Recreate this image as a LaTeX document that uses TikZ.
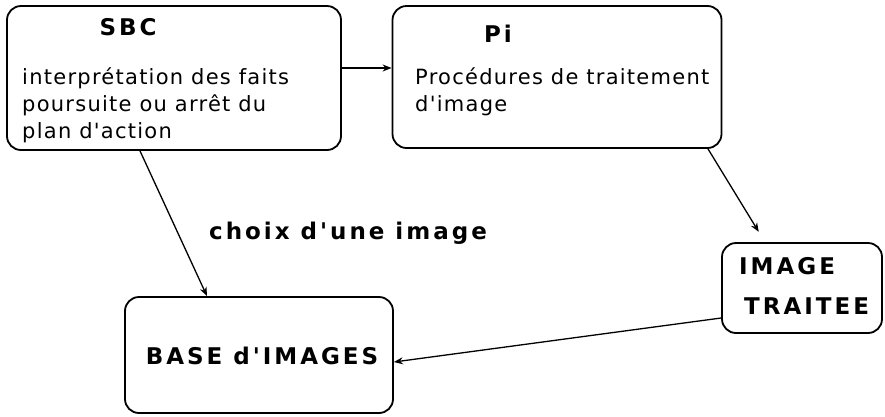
\documentclass[tikz,border=0pt]{standalone}
\usepackage{fontspec}
\usetikzlibrary{arrows.meta}
\newfontfamily\genf[LetterSpace=6]{DejaVu Sans}
\newfontfamily\genb[LetterSpace=13]{DejaVu Sans Bold}
\begin{document}
\begin{tikzpicture}[->, >={Stealth[length=9pt, width=7pt]}, x=1pt, y=-1pt,
    box/.style={draw, rounded corners=14pt, line width=1.8pt, inner sep=0pt},
    txt/.style={anchor=west, inner sep=0pt, align=left, font=\genf\fontsize{21}{27}\selectfont},
    ttl/.style={inner sep=0pt, font=\genb\fontsize{23}{40}\selectfont},
    arr/.style={->, line width=1.3pt}]
                \useasboundingbox (0,0) rectangle (885,416);
                % Define nodes
                \node[box, minimum width=334pt, minimum height=144pt] (sbc) at (174,78) {};
                \node[box, minimum width=329pt, minimum height=142pt] (pi) at (557,77) {};
                \node[box, minimum width=160pt, minimum height=90pt] (trait) at (802,288) {};
                \node[box, minimum width=268pt, minimum height=116pt] (base) at (259,355) {};

                % Texts in the boxes
                \node[ttl] (sbctitle) at (128,27) {SBC};
                \node[txt] (sbctxt) at (22,105) {interprétation des faits\\poursuite ou arrêt du\\plan d'action};
                \node[ttl] (pititle) at (498,34) {Pi};
                \node[txt] (pitxt) at (415,92) {Procédures de traitement\\d'image};
                \node[ttl, anchor=west, align=left] (traittxt) at (739,286) {IMAGE\\\hspace{5pt}TRAITEE};
                \node[ttl] (basetxt) at (262,356) {BASE d'IMAGES};
                \node[ttl] (choix) at (348,233) {choix d'une image};

                % Draw the edges
                \draw[arr] ([yshift=10pt]sbc.east) -- ([yshift=10pt]sbc.east -| pi.west);
                \draw[arr] ([xshift=-34pt]sbc.south) -- ([xshift=-52pt]base.north);
                \draw[arr, shorten >=12pt] ([xshift=151pt]pi.south) -- ([xshift=-37pt]trait.north);
                \draw[arr] ([yshift=-30pt]trait.west) -- ([yshift=-7pt]base.east);
            \end{tikzpicture}
\end{document}
